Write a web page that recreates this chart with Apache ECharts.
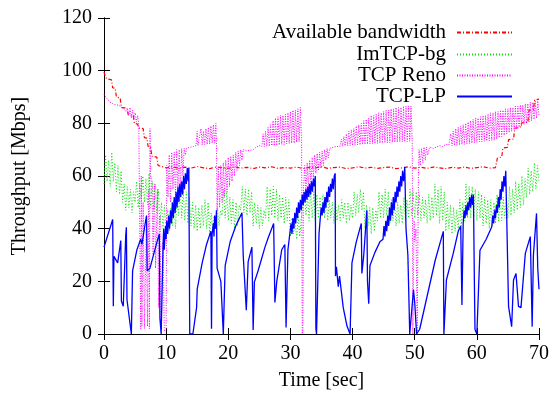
<!DOCTYPE html>
<html>
<head>
<meta charset="utf-8">
<script src="https://cdn.jsdelivr.net/npm/echarts@6/dist/echarts.min.js"></script>
<style>
html,body{margin:0;padding:0;background:#fff;}
#chart{width:559px;height:395px;}
</style>
</head>
<body>
<div id="chart"></div>
<script>
// ---- axes ----
const xRange = [0, 70, 10];
const yRange = [0, 120, 20];
const xTitle = 'Time [sec]';
const yTitle = 'Throughput [Mbps]';
const seriesNames = ['Available bandwidth', 'ImTCP-bg', 'TCP Reno', 'TCP-LP'];

// ---- Available bandwidth [t, Mbps] ----
const availBw = [
[0,99.5],[0.2,98],[0.4,97],[1.2,96.5],[1.4,93.5],[1.8,93.3],[2.0,90],[2.6,89.6],[2.8,86],[3.7,85.8],
[3.9,83.2],[4.7,83],[4.9,80],[5.4,79.7],[5.6,78.2],[6.3,78],[6.5,74.6],[6.9,74.4],[7.1,71.2],[7.5,71],
[7.7,67.5],[8.5,67.2],[8.7,64],[9.3,63.6],[10,63.1],[11,63.5],[12,62.9],[13,63.4],[14,63.0],[15,63.6],
[16,63.1],[17,62.8],[18,63.4],[19,63.2],[20,62.9],[21,63.5],[22,63.0],[23,63.3],[24,62.8],[25,63.4],
[26,63.1],[27,63.5],[28,62.9],[29,63.2],[30,63.0],[31,63.4],[32,62.8],[33,63.3],[34,63.1],[35,63.5],
[36,62.9],[37,63.2],[38,63.4],[39,62.8],[40,63.1],[41,63.5],[42,63.0],[43,63.3],[44,62.9],[45,63.2],
[46,63.4],[47,62.8],[48,63.1],[49,63.5],[50,63.0],[51,63.3],[52,62.9],[53,63.4],[54,63.1],[55,62.8],
[56,63.3],[57,63.0],[58,63.4],[59,62.9],[60,63.2],[61,63.5],[62,63.0],[63,63.2],[63.3,66.8],[64.0,67.2],
[64.2,70.6],[64.9,70.9],[65.1,73.8],[65.9,74],[66.1,78.2],[67,78.4],[67.2,80.2],[68.2,80.4],[68.4,85],
[69.1,85.3],[69.3,88.8],[70,89.2]
];

// ---- ImTCP-bg, sampled every bgStep seconds ----
const bgStep = 0.25;
const bgValues = [
57,68,58,66, 56,69,58,65, 54,64,53,62, 50,57,47,56, 48,55,46,54,
50,58,48,57, 51,60,50,59, 49,61,48,58, 47,57,46,55, 42,50,40,49,
38,47,39,48, 41,51,40,52, 45,56,44,55, 43,54,42,52, 41,50,40,49,
39,48,40,49, 41,51,40,50, 38,46,39,45, 40,48,41,47, 45,55,44,54,
43,52,42,51, 40,50,41,49, 47,56,46,55, 45,55,46,54, 41,50,42,49,
40,48,41,47, 44,56,43,55, 45,56,44,55, 43,53,44,52, 42,52,43,51,
37,44,38,43, 36,45,37,44, 44,54,45,53, 43,55,44,54, 43,53,44,52,
45,53,44,52, 43,51,44,50, 42,50,43,49, 43,51,44,50, 42,50,43,49,
44,54,45,53, 46,55,47,54, 40,49,41,48, 38,48,39,47, 43,54,44,53,
44,55,45,54, 42,51,43,50, 41,50,42,49, 42,52,43,51, 44,55,45,54,
44,54,45,53, 43,52,44,51, 42,53,43,52, 44,57,45,55, 42,56,43,54,
39,50,40,49, 38,48,39,47, 40,51,41,50, 43,57,44,56, 44,56,45,55,
43,54,44,53, 41,52,42,51, 40,51,41,50, 42,53,43,52, 43,52,44,51,
44,56,45,55, 46,58,47,57, 48,60,49,59, 52,63,53,62, 54,65,55,64,
58
];

// ---- TCP Reno [t, Mbps] ----
const tcpReno = [
[0,91],[0.3,90],[0.6,89],[1.0,88],[1.3,87.5],[1.6,87.2],[2.0,87],[2.4,86.8],[2.8,86.2],[3.2,85.5],
[3.5,84.5],[3.8,85.5],[4.0,83],[4.2,86],[4.4,82],[4.6,85],[4.8,81.5],[5.0,84],[5.2,80.5],[5.4,83],[5.6,79.5],
[5.8,80],[5.9,2],[6.0,60],[6.1,3],[6.3,50],[6.5,2],[6.8,40],[7.0,3],[7.2,55],[7.3,2],[7.4,78],[7.5,60],
[7.7,58],[7.9,30],[8.1,57],[8.3,25],[8.6,55],[8.8,10],[9.0,45],[9.2,2],[9.5,35],[9.7,1],[10.0,2],
[10.1,64],[10.3,52],[10.5,68],[10.7,50],[10.9,69],[11.1,55],[11.3,69],[11.5,52],[11.7,70],[11.9,56],
[12.1,70],[12.3,54],[12.5,70.5],[12.7,60],[12.9,70.5],[13.1,68],[13.3,70.5],[13.6,70.8],[14.0,71],
[14.4,71.2],[14.8,71.5],[15.0,77],[15.1,71.5],[15.4,72],[15.6,78],[15.8,71.8],[16.0,77],[16.2,72],
[16.4,78],[16.6,72],[16.8,78.5],[17.0,72.2],[17.2,79],[17.4,72.5],[17.6,79.5],[17.8,72.5],[18.0,80],[18.1,72],
[18.2,47],[18.4,63],[18.6,48],[18.8,64],[19.0,50],[19.2,65],[19.4,52],[19.6,66],[19.8,54],[20.0,67],
[20.2,56],[20.4,67.5],[20.6,58],[20.8,68],[21.0,60],[21.2,69],[21.4,62],[21.6,69.5],[21.8,64],[22.0,70],
[22.2,66],[22.4,70],[22.6,70],[23.0,69.5],[23.5,69.8],[24.0,70],[24.5,71],[25.0,71.5],[25.4,71.2],
[25.6,76],[25.8,71.2],[26.0,77],[26.2,71.3],[26.4,78.5],[26.6,71.3],[26.8,79.5],[27.0,71.5],[27.2,81],
[27.4,71.5],[27.6,82],[27.8,71.6],[28.0,82.5],[28.2,71.8],[28.4,83],[28.6,72],[28.8,83],[29.0,72],
[29.2,83.5],[29.4,72.2],[29.6,84],[29.8,72.3],[30.0,84.5],[30.2,72.5],[30.4,85],[30.6,72.5],[30.8,85],
[31.0,72.8],[31.2,85.5],[31.4,73],[31.6,86],[31.8,73],[31.9,0],
[32.0,2],[32.1,55],[32.3,64],[32.5,53],[32.7,65],[32.9,55],[33.1,66],[33.3,57],[33.5,67],[33.7,59],
[33.9,68],[34.1,61],[34.3,68.5],[34.5,62],[34.7,69],[34.9,63],[35.1,69.5],[35.3,64],[35.5,70],[35.7,66],
[35.9,70.5],[36.1,67],[36.3,70.5],[36.6,71],[37.0,71],[37.5,71.2],[38.0,71.3],
[38.2,74],[38.4,71.3],[38.6,75],[38.8,71.4],[39.0,76],[39.2,71.5],[39.4,77],[39.6,71.5],[39.8,77.5],
[40.0,71.6],[40.2,78],[40.4,71.7],[40.6,79],[40.8,71.8],[41.0,79.5],[41.2,71.8],[41.4,80],[41.6,72],
[41.8,81],[42.0,72],[42.2,81.5],[42.4,72.1],[42.6,82],[42.8,72.2],[43.0,83],[43.2,72.3],[43.4,83],
[43.6,72.3],[43.8,83.5],[44.0,72.4],[44.2,84],[44.4,72.5],[44.6,84],[44.8,72.5],[45.0,84.5],[45.2,72.6],
[45.4,85],[45.6,72.6],[45.8,85],[46.0,72.7],[46.2,85.5],[46.4,72.8],[46.6,85.5],[46.8,72.8],[47.0,86],
[47.2,72.9],[47.4,86],[47.6,73],[47.8,86],[48.0,73],[48.2,86.5],[48.4,73],[48.6,86.5],[48.8,73.1],
[49.0,86.5],[49.2,73.2],[49.4,86.5],[49.6,73],
[49.7,0],[49.9,43],[50.0,35],[50.2,40],[50.4,0],[50.6,60],[50.7,70],[50.9,64],[51.1,70.5],[51.3,65],
[51.5,71],[51.7,66],[51.9,71],[52.1,68],[52.4,71],[53.0,70.5],[53.5,71],[54.0,71.5],[54.5,71.2],
[55.0,72],[55.5,71.8],
[55.8,76],[56.0,71.5],[56.2,77],[56.4,71.6],[56.6,78],[56.8,71.7],[57.0,78.5],[57.2,71.8],[57.4,79],
[57.6,72],[57.8,79.5],[58.0,72],[58.2,80],[58.4,72.2],[58.6,80.5],[58.8,72.3],[59.0,81],[59.2,72.5],
[59.4,81.5],[59.6,72.6],[59.8,82],[60.0,72.8],[60.2,82],[60.4,73],[60.6,82.5],[60.8,73],[61.0,83],
[61.2,73.2],[61.4,83],[61.6,73.3],[61.8,83.5],[62.0,73.4],[62.2,84],[62.4,73.5],[62.6,84],[62.8,73.6],
[63.0,84.5],[63.2,74],[63.4,84.5],[63.6,74.5],[63.8,85],[64.0,75],[64.2,85],[64.4,75.5],[64.6,85.5],
[64.8,76],[65.0,85.5],[65.2,76.5],[65.4,86],[65.6,77],[65.8,86],[66.0,77.5],[66.2,86.5],[66.4,78],
[66.6,86.5],[66.8,78.5],[67.0,87],[67.2,79],[67.4,87],[67.6,79.5],[67.8,87.5],[68.0,80],[68.2,87.5],
[68.4,80.5],[68.6,88],[68.8,81],[69.0,88],[69.2,81.5],[69.4,88.5],[69.6,82],[69.8,88.5],[70.0,83]
];

// ---- TCP-LP [t, Mbps] ----
const tcpLp = [
[0,33],[1.4,43.5],[1.5,10.5],[1.6,29.5],[2.2,27],[2.7,35.5],[2.8,12.5],[3.1,10.5],[3.5,37.5],[3.6,40.5],
[3.7,13],[4.4,0],[4.6,24],[5.3,32],[5.9,36],[6.1,34],[6.7,43],[6.85,45],[6.95,24],[7.4,25],[8.3,33],
[8.9,38],[9.0,6],[9.2,0],[9.5,33],[9.6,40],[9.7,32],[9.9,41],
[10.0,36],[10.1,43],[10.25,38],[10.4,45],[10.55,40],[10.7,47],[10.85,42],[11.0,50],[11.15,44],[11.3,52],
[11.45,46],[11.6,54],[11.75,48],[11.9,56],[12.05,50],[12.2,57],[12.35,52],[12.5,58],[12.65,53],[12.8,60],
[12.95,55],[13.1,61],[13.25,57],[13.4,63],[13.55,58],[13.65,63],[13.8,0],[14.3,0],[14.9,10],[15.0,17],
[15.8,27],[16.5,34],[17.2,39],[17.3,2],[17.4,38],[17.6,42],[17.7,37],[17.8,45],[17.95,40],[18.1,47],
[18.2,25],[18.8,20],[19.2,0],[19.5,26],[20.3,35],[21.2,41],[22.2,46],[22.4,30],[22.9,9],[23.2,27.5],
[23.8,33],[24.0,1.5],[24.2,19.7],[24.8,24],[25.9,33],[26.5,37],[27.3,42],[27.5,12],[27.8,20],[28.6,32],
[29.1,34],[29.3,2.5],[29.6,32],[29.9,38],
[30.1,42],[30.25,38],[30.4,44],[30.55,40],[30.7,46],[30.85,42],[31.0,48],[31.15,44],[31.3,50],[31.45,46],
[31.6,51],[31.75,47],[31.9,53],[32.05,49],[32.2,54],[32.35,50],[32.5,55],[32.65,51],[32.8,56],[32.95,52],
[33.1,57],[33.25,53],[33.4,58],[33.55,54],[33.7,59],[33.85,56],[34.0,60],[34.1,2],[34.2,0],[34.6,38],
[34.8,44],[34.95,48],[35.1,45],[35.25,50],[35.4,46],[35.55,52],[35.7,48],[35.85,54],[36.0,50],[36.15,56],
[36.3,52],[36.45,57],[36.6,54],[36.75,59],[36.9,55],[37.05,60],[37.2,61],[37.25,22],[37.4,25.5],[37.7,18],
[37.9,22],[38.5,10],[39.1,3],[39.6,0],[39.9,27],[40.6,35],[41.4,42],[41.5,23],[41.8,30],[42.3,47],
[42.4,20],[42.6,11.5],[42.8,26],[43.6,31],[44.4,35],[44.9,36],
[45.05,41],[45.2,37],[45.35,43],[45.5,39],[45.65,45],[45.8,41],[45.95,48],[46.1,43],[46.25,50],[46.4,45],
[46.55,52],[46.7,47],[46.85,54],[47.0,50],[47.15,56],[47.3,52],[47.45,58],[47.6,54],[47.75,60],[47.9,56],
[48.05,62],[48.2,58],[48.4,63.5],[48.6,40],[48.9,30],[49.2,0],[49.8,16.8],[50.0,12],[50.3,0],[50.8,1.8],
[53.3,28],[54.6,39],[54.7,0],[55.1,20.5],[56.2,30.6],[57.0,39],[57.4,41],[57.6,11],[57.8,42],
[57.95,47],[58.1,44],[58.25,49],[58.4,45],[58.55,50],[58.7,47],[58.85,52],[59.0,48],[59.15,53],[59.3,49],
[59.45,53],[59.6,20],[59.7,1.7],[60.0,0],[60.5,31.8],[61.5,36],[62.4,40.7],
[62.55,45],[62.7,42],[62.85,47],[63.0,44],[63.15,49],[63.3,46],[63.45,52],[63.6,48],[63.75,55],[63.9,51],
[64.05,58],[64.2,54],[64.35,60],[64.5,56],[64.65,62],[64.8,62.5],[65.1,10.5],[65.6,2.8],[65.9,20.5],
[66.3,23],[66.7,10.5],[67.1,10],[67.8,30.6],[68.6,37],[68.9,2.8],[69.1,30],[69.6,45.8],[69.8,25],[70.0,17]
];

const bgData = bgValues.map((v, i) => [i * bgStep, v]);

const FONT = 'Liberation Serif, Times New Roman, serif';
const chart = echarts.init(document.getElementById('chart'), null, {renderer: 'canvas'});

function legendFor(name, top) {
  return {
    data: [name], orient: 'vertical', right: 46, top: top, padding: 0,
    align: 'right', itemWidth: 55, itemHeight: 14, selectedMode: false,
    itemStyle: {color: 'rgba(0,0,0,0)', borderColor: 'rgba(0,0,0,0)', borderWidth: 0},
    textStyle: {fontFamily: FONT, fontSize: 21, color: '#000', padding: [0, 6, 0, 0]}
  };
}

const axisCommon = {
  type: 'value',
  axisLine: {show: true, lineStyle: {color: '#000', width: 1}},
  axisTick: {show: true, inside: true, length: 6, lineStyle: {color: '#000'}},
  splitLine: {show: false}
};

chart.setOption({
  animation: false,
  backgroundColor: '#fff',
  grid: {left: 104, right: 20, top: 18, bottom: 61, containLabel: false, outerBoundsMode: 'none'},
  legend: [
    legendFor(seriesNames[0], 22),
    legendFor(seriesNames[1], 44),
    legendFor(seriesNames[2], 65),
    legendFor(seriesNames[3], 86)
  ],
  xAxis: [
    Object.assign({}, axisCommon, {
      min: xRange[0], max: xRange[1], interval: xRange[2], position: 'bottom',
      name: xTitle, nameLocation: 'middle', nameGap: 37,
      nameTextStyle: {fontFamily: FONT, fontSize: 20, color: '#000'},
      axisLabel: {fontFamily: FONT, fontSize: 20, color: '#000', margin: 10}
    }),
    Object.assign({}, axisCommon, {
      min: xRange[0], max: xRange[1], interval: xRange[2], position: 'top',
      axisLabel: {show: false}
    })
  ],
  yAxis: [
    Object.assign({}, axisCommon, {
      min: yRange[0], max: yRange[1], interval: yRange[2], position: 'left',
      name: yTitle, nameLocation: 'middle', nameGap: 74,
      nameTextStyle: {fontFamily: FONT, fontSize: 20, color: '#000'},
      axisLabel: {fontFamily: FONT, fontSize: 20, color: '#000', margin: 12}
    }),
    Object.assign({}, axisCommon, {
      min: yRange[0], max: yRange[1], interval: yRange[2], position: 'right',
      axisLabel: {show: false}
    })
  ],
  series: [
    {name: seriesNames[0], type: 'line', data: availBw, symbol: 'none', showSymbol: false,
     lineStyle: {color: '#ff0000', width: 1.2, type: [4, 2, 1, 2]}, itemStyle: {color: '#ff0000'}},
    {name: seriesNames[1], type: 'line', data: bgData, symbol: 'none', showSymbol: false,
     lineStyle: {color: '#00e000', width: 1, type: [1, 2]}, itemStyle: {color: '#00e000'}},
    {name: seriesNames[2], type: 'line', data: tcpReno, symbol: 'none', showSymbol: false,
     lineStyle: {color: '#ff00ff', width: 1, type: [1, 1.5]}, itemStyle: {color: '#ff00ff'}},
    {name: seriesNames[3], type: 'line', data: tcpLp, symbol: 'none', showSymbol: false,
     lineStyle: {color: '#0000ff', width: 1.3}, itemStyle: {color: '#0000ff'}}
  ]
});
</script>
</body>
</html>
